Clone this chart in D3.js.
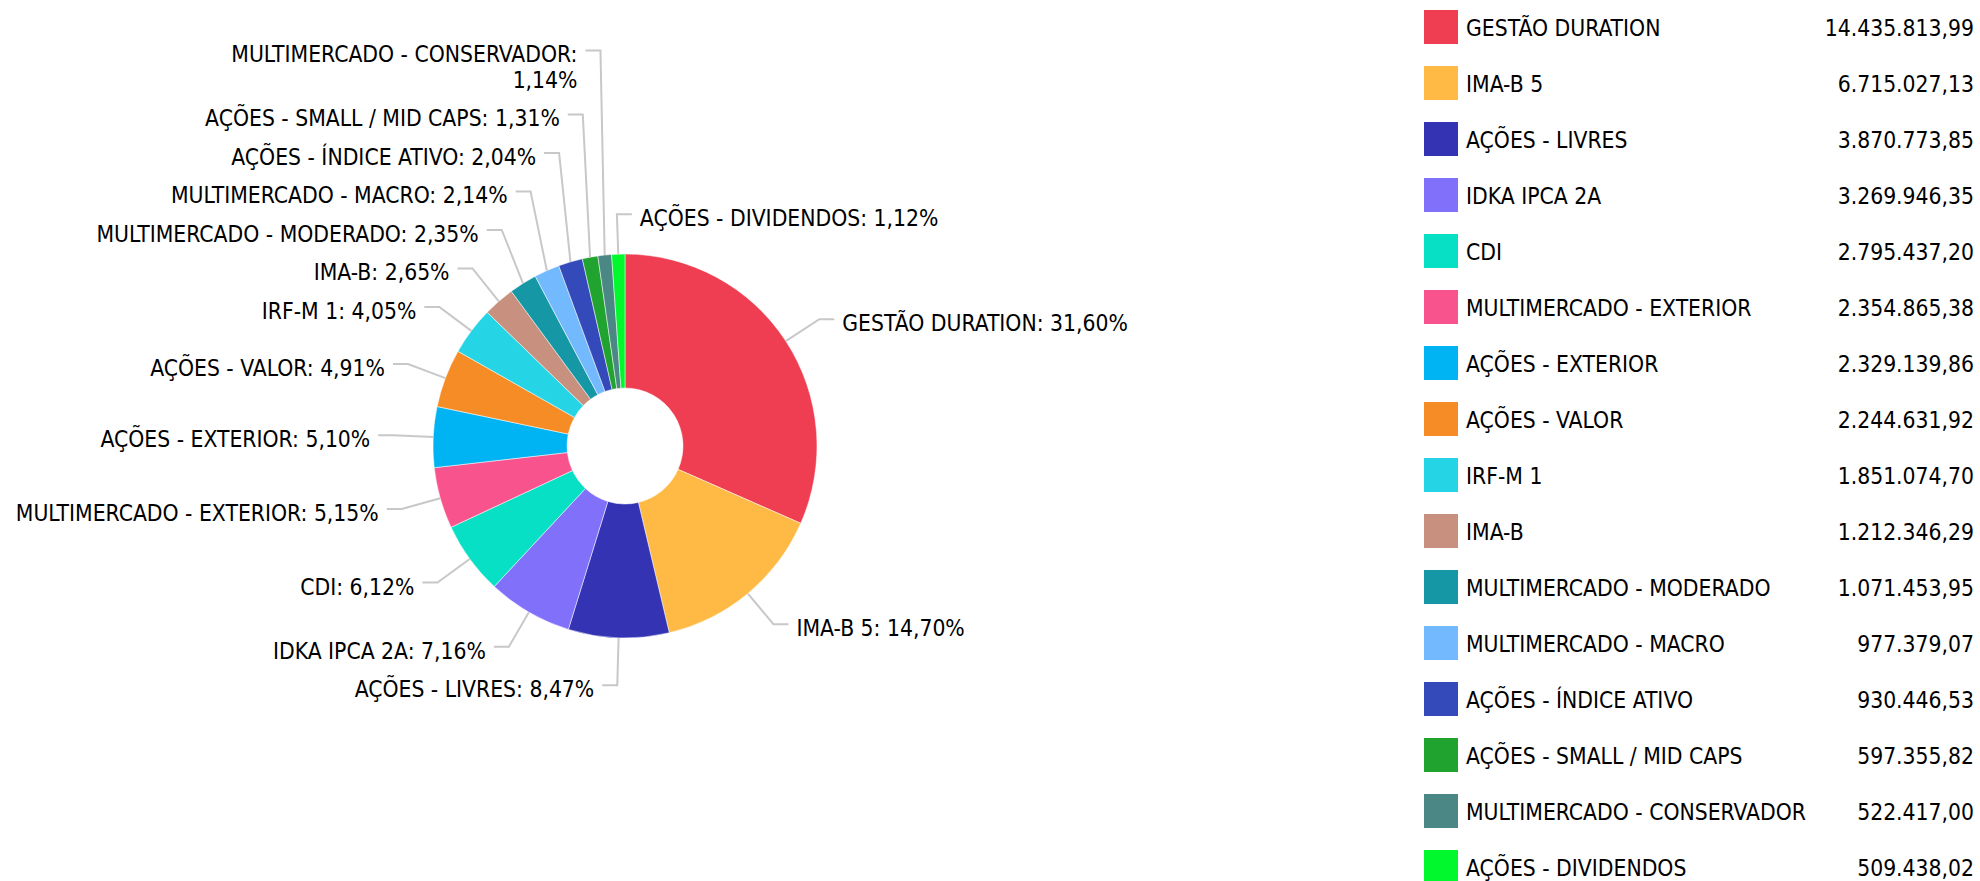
<!DOCTYPE html>
<html><head><meta charset="utf-8">
<script src="https://cdn.jsdelivr.net/npm/d3@7"></script>
<style>
body{margin:0;background:#fff;overflow:hidden;}
svg{display:block;}
text{font-family:"DejaVu Sans Condensed","DejaVu Sans",sans-serif;fill:#000;}
</style>
</head><body>
<svg id="chart" width="1980" height="881"></svg>
<script>
const categories = ["GESTÃO DURATION","IMA-B 5","AÇÕES - LIVRES","IDKA IPCA 2A","CDI","MULTIMERCADO - EXTERIOR","AÇÕES - EXTERIOR","AÇÕES - VALOR","IRF-M 1","IMA-B","MULTIMERCADO - MODERADO","MULTIMERCADO - MACRO","AÇÕES - ÍNDICE ATIVO","AÇÕES - SMALL / MID CAPS","MULTIMERCADO - CONSERVADOR","AÇÕES - DIVIDENDOS"];
const values = [14435813.99,6715027.13,3870773.85,3269946.35,2795437.20,2354865.38,2329139.86,2244631.92,1851074.70,1212346.29,1071453.95,977379.07,930446.53,597355.82,522417.00,509438.02];
const colors = ["#ef3e52","#ffba45","#3333b3","#8170fa","#08e0c6","#f8538c","#00b3f3","#f68c25","#25d5e5","#c8917f","#1697a6","#73b9fe","#3449ba","#21a32f","#4a8785","#00f82d"];

const W=1980,H=881;
const cx=625, cy=446, R=192, R0=58, tickR=R+40, tickH=15, gap=8;
const fontSize=22.7, lineH=25.5, pad=13, maxLabelW=395;

const loc = d3.formatLocale({decimal:",",thousands:".",grouping:[3],currency:["",""]});
const fmtPct = loc.format(".2f"), fmtVal = loc.format(",.2f");
const total = d3.sum(values);
const data = categories.map((c,i)=>({name:c,v:values[i],c:colors[i]}));

const svg = d3.select("#chart");
const g = svg.append("g");
const pie = d3.pie().sort(null).value(d=>d.v);
const arcs = pie(data);
const arc = d3.arc().innerRadius(R0).outerRadius(R);

g.selectAll("path.slice").data(arcs).join("path").attr("class","slice")
 .attr("transform",`translate(${cx},${cy})`)
 .attr("d",arc).attr("fill",d=>d.data.c).attr("stroke","#fff").attr("stroke-width",0.5);

// labels
const measurer = svg.append("text").attr("font-size",fontSize).attr("visibility","hidden");
function width(s){measurer.text(s);return measurer.node().getComputedTextLength();}
function wrap(s){
  if(width(s)<=maxLabelW) return [s];
  const words=s.split(" "); const lines=[]; let cur="";
  words.forEach(w=>{const t=cur?cur+" "+w:w; if(width(t)>maxLabelW&&cur){lines.push(cur);cur=w;}else cur=t;});
  if(cur) lines.push(cur); return lines;
}
const labels = arcs.map(a=>{
  const mid=(a.startAngle+a.endAngle)/2;
  const s=Math.sin(mid), c=Math.cos(mid);
  const side = (mid<Math.PI || mid>2*Math.PI-0.05) ? 1 : -1;
  const lines = wrap(a.data.name+": "+fmtPct(a.data.v/total*100)+"%");
  const above=(lineH+pad)/2, below=lines.length*lineH+pad-above;
  return {a,mid,side,lines,above,below,
    x0:cx+R*s, y0:cy-R*c, ex:cx+tickR*s, y:cy-tickR*c};
});
measurer.remove();
[1,-1].forEach(side=>{
  const L=labels.filter(l=>l.side===side);
  const up=L.filter(l=>l.y<cy).sort((p,q)=>q.y-p.y);
  let prevTop=Infinity;
  up.forEach(l=>{ if(l.y+l.below>prevTop) l.y=prevTop-l.below; prevTop=l.y-l.above; });
  const down=L.filter(l=>l.y>=cy).sort((p,q)=>p.y-q.y);
  let prevBot=-Infinity;
  down.forEach(l=>{ if(l.y-l.above<prevBot) l.y=prevBot+l.above; prevBot=l.y+l.below; });
});
const lg=svg.append("g");
lg.selectAll("path.tick").data(labels).join("path").attr("class","tick")
 .attr("d",l=>`M${l.x0},${l.y0}L${l.ex},${l.y}L${l.ex+l.side*tickH},${l.y}`)
 .attr("fill","none").attr("stroke","#c8c8c8").attr("stroke-width",2);
const lt=lg.selectAll("text.lbl").data(labels).join("text").attr("class","lbl")
 .attr("font-size",fontSize)
 .attr("text-anchor",l=>l.side>0?"start":"end");
lt.each(function(l){
  const t=d3.select(this);
  l.lines.forEach((ln,i)=>t.append("tspan").attr("x",l.ex+l.side*(tickH+gap)).attr("y",l.y+4+i*lineH).attr("dominant-baseline","central").text(ln));
});

// legend
const legX=1424, legY=10, legStep=56, sw=34, valX=1974;
const leg=svg.append("g").selectAll("g").data(data).join("g")
 .attr("transform",(d,i)=>`translate(0,${legY+i*legStep})`);
leg.append("rect").attr("x",legX).attr("y",0).attr("width",sw).attr("height",sw).attr("fill",d=>d.c);
leg.append("text").attr("x",legX+42).attr("y",sw/2+1).attr("dominant-baseline","central").attr("font-size",fontSize).text(d=>d.name);
leg.append("text").attr("x",valX).attr("y",sw/2+1).attr("dominant-baseline","central").attr("text-anchor","end").attr("font-size",fontSize).text(d=>fmtVal(d.v));
</script>
</body></html>
